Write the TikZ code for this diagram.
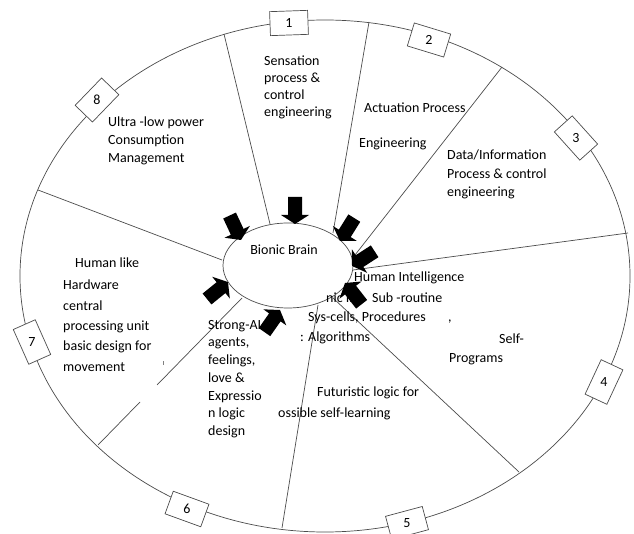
\documentclass[tikz,border=0pt]{standalone}
\usepackage{fontspec}
\setmainfont{Carlito}
\usetikzlibrary{shapes.geometric}
\begin{document}
\begin{tikzpicture}[x=1pt,y=-1pt,
  ln/.style={line width=0.7pt,draw=black!70},
  txt/.style={font=\fontsize{14}{18}\selectfont,inner sep=0pt,anchor=north west,align=left,text=black},
  stxt/.style={font=\fontsize{14}{18}\selectfont,inner sep=0pt,anchor=base west,text=black},
  numbox/.style={draw=black!70,line width=0.7pt,fill=white,minimum width=38pt,minimum height=24pt,inner sep=0pt},
  numtxt/.style={inner sep=0pt,font=\fontsize{14}{16}\selectfont,text=black},
  blockarrow/.pic={\fill[black] (0pt,0pt) -- (-9pt,14pt) -- (-9pt,7pt) -- (-27pt,7pt) -- (-27pt,-7pt) -- (-9pt,-7pt) -- (-9pt,-14pt) -- cycle;}
]
\useasboundingbox[fill=white] (0,0) rectangle (634,534);
% outer ellipse
\node[ln,draw,ellipse,minimum width=610pt,minimum height=512pt,inner sep=0pt] (outer) at (325,276) {};
% radial lines
\coordinate (i1) at (222,260); \coordinate (o1) at (38,190);
\coordinate (i2) at (270,224); \coordinate (o2) at (224,34);
\coordinate (i3) at (333,233); \coordinate (o3) at (369,22);
\coordinate (i4) at (355,255); \coordinate (o4) at (502,67);
\coordinate (i5) at (353,270); \coordinate (o5) at (628,233);
\coordinate (i6) at (333,298); \coordinate (o6) at (519,472);
\coordinate (i7) at (318,305); \coordinate (o7) at (282,528);
\coordinate (i8) at (242,298); \coordinate (g1) at (157,385);
\coordinate (g2) at (140,402); \coordinate (o8) at (98,445);
\coordinate (m1) at (163,361); \coordinate (m2) at (163,365);
\draw[ln] (i1) -- (o1);
\draw[ln] (i2) -- (o2);
\draw[ln] (i3) -- (o3);
\draw[ln] (i4) -- (o4);
\draw[ln] (i5) -- (o5);
\draw[ln] (i6) -- (o6);
\draw[ln] (i7) -- (o7);
\draw[ln] (i8) -- (g1);
\draw[ln] (g2) -- (o8);
\draw[line width=0.5pt,black!50] (m1) -- (m2);
% inner ellipse
\node[ln,draw,fill=white,ellipse,minimum width=130pt,minimum height=85pt,inner sep=0pt] (brain) at (288,265.5) {};
\node[font=\fontsize{14}{16}\selectfont,text=black,inner sep=0pt] (brainlbl) at (284,250) {Bionic Brain};
% texts
\node[txt,font=\fontsize{14}{16.8}\selectfont] (t1) at (264,56) {Sensation\\process \&\\control\\engineering};
\node[txt] (t2a) at (364,103) {Actuation Process};
\node[txt] (t2b) at (359,138) {Engineering};
\node[txt,font=\fontsize{14}{18.5}\selectfont] (t3) at (447,150) {Data/Information\\Process \& control\\engineering};
\node[txt] (t8) at (108,117) {Ultra -low power\\Consumption\\Management};
\node[txt] (t7a) at (75,258) {Human like};
\node[txt,font=\fontsize{14}{20.3}\selectfont] (t7b) at (63,280) {Hardware\\central\\processing unit\\basic design for\\movement};
\node[txt,font=\fontsize{14}{17.7}\selectfont] (t6) at (208,320) {Strong-AI\\agents,\\feelings,\\love \&\\Expressio\\n logic\\design};
\node[txt] (t4a) at (354,272) {Human Intelligence};
\node[txt] (t4b) at (326,293) {nic In};
\node[txt] (t4c) at (372,293) {Sub -routine};
\node[txt] (t4d) at (308,312) {Sys-cells, Procedures};
\node[stxt] (t4e) at (448,321.5) {,};
\node[txt] (t4f) at (300,332) {: Algorithms};
\node[txt] (t4g) at (499,334) {Self-};
\node[txt] (t4h) at (449,353) {Programs};
\node[txt] (t5a) at (317,387) {Futuristic logic for};
\node[txt] (t5b) at (278,408) {ossible self-learning};
% block arrows
\pic[rotate=-65] (a1) at (241,240) {blockarrow};
\pic[rotate=-90] (a2) at (295,224) {blockarrow};
\pic[rotate=-122] (a3) at (340,241) {blockarrow};
\pic[rotate=-147] (a4) at (352,266) {blockarrow};
\pic[rotate=128] (a5) at (345,283) {blockarrow};
\pic[rotate=39] (a6) at (228,282) {blockarrow};
\pic[rotate=55] (a7) at (280,310) {blockarrow};
% number boxes
\node[numbox,rotate=2] (b1) at (289,23) {};
\node[numbox,rotate=-17] (b2) at (429,40) {};
\node[numbox,rotate=-48] (b3) at (576,138) {};
\node[numbox,rotate=65] (b4) at (604,382) {};
\node[numbox,rotate=15] (b5) at (407,523) {};
\node[numbox,rotate=-20] (b6) at (187,509) {};
\node[numbox,rotate=-66] (b7) at (32,342) {};
\node[numbox,rotate=46] (b8) at (97,100) {};
\node[numtxt] (n1) at (b1.center) {1};
\node[numtxt] (n2) at (b2.center) {2};
\node[numtxt] (n3) at (b3.center) {3};
\node[numtxt] (n4) at (b4.center) {4};
\node[numtxt] (n5) at (b5.center) {5};
\node[numtxt] (n6) at (b6.center) {6};
\node[numtxt] (n7) at (b7.center) {7};
\node[numtxt] (n8) at (b8.center) {8};
\end{tikzpicture}
\end{document}
